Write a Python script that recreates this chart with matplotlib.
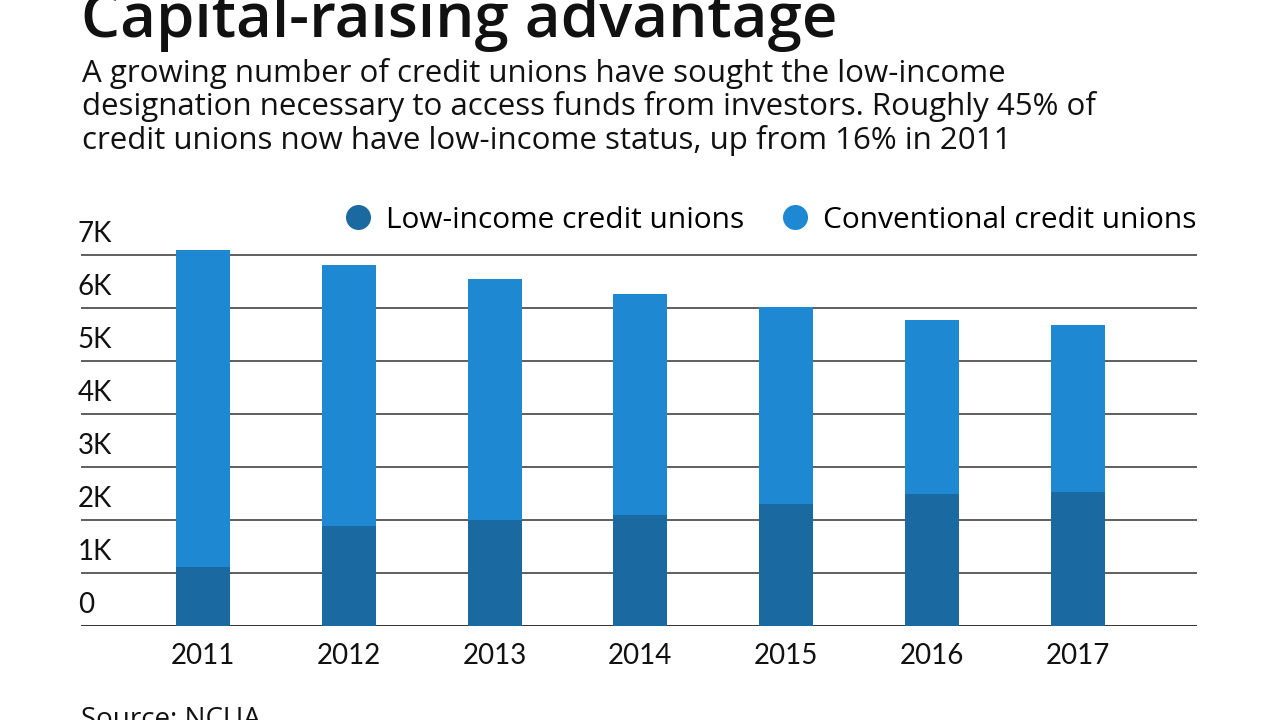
import numpy as np
import matplotlib.pyplot as plt
from matplotlib.lines import Line2D

years = ["2011", "2012", "2013", "2014", "2015", "2016", "2017"]
low_income = [1110, 1890, 2000, 2090, 2300, 2490, 2530]
total = [7090, 6810, 6550, 6260, 6020, 5770, 5680]
conventional = [t - l for t, l in zip(total, low_income)]

y_ticks = [0, 1000, 2000, 3000, 4000, 5000, 6000, 7000]
y_labels = ["0", "1K", "2K", "3K", "4K", "5K", "6K", "7K"]

dark_blue = "#1b69a1"
light_blue = "#1e88d3"

plt.rcParams["font.family"] = ["Lato", "DejaVu Sans"]
wide = ["Open Sans", "DejaVu Sans"]

fig = plt.figure(figsize=(12.8, 7.2), dpi=100)
ax = fig.add_axes([0.0633, 0.1306, 0.872, 0.5375])

x = np.arange(len(years))
ax.bar(x, low_income, width=0.37, color=dark_blue, zorder=3)
ax.bar(x, conventional, width=0.37, bottom=low_income, color=light_blue, zorder=3)

ax.set_xlim(-0.837, 6.82)
ax.set_ylim(0, 7300)

# gridlines
for t in y_ticks:
    ax.axhline(t, color="#333333", linewidth=1.1 if t else 1.4, zorder=2)

# tick labels sit above gridlines
ax.set_yticks([])
for t, lab in zip(y_ticks, y_labels):
    ax.annotate(lab, xy=(-0.003, t), xycoords=ax.get_yaxis_transform(),
                xytext=(0, 6), textcoords="offset points",
                ha="left", va="bottom", fontsize=20, color="#111111")

ax.set_xticks(x)
ax.set_xticklabels(years, fontsize=20, color="#111111")
ax.tick_params(axis="x", length=0, pad=12)

for s in ax.spines.values():
    s.set_visible(False)

# legend
handles = [Line2D([], [], marker="o", linestyle="", markersize=17, color=dark_blue),
           Line2D([], [], marker="o", linestyle="", markersize=17, color=light_blue)]
fig.legend(handles, ["Low-income credit unions", "Conventional credit unions"],
           loc="center right", bbox_to_anchor=(0.935, 0.694), ncol=2, frameon=False,
           prop={"family": wide, "size": 21.5}, handlelength=1.0, handletextpad=0.45,
           columnspacing=1.2, borderpad=0, borderaxespad=0)

# title and subtitle
fig.text(0.063, 0.948, "Capital-raising advantage", fontsize=44.5, fontweight="semibold",
         family=wide, ha="left", va="baseline", color="#111111")
fig.text(0.064, 0.92,
         "A growing number of credit unions have sought the low-income\n"
         "designation necessary to access funds from investors. Roughly 45% of\n"
         "credit unions now have low-income status, up from 16% in 2011",
         fontsize=22.5, family=wide, ha="left", va="top", linespacing=1.12, color="#111111")

fig.text(0.063, 0.0, "Source: NCUA", fontsize=20, family=wide, ha="left", va="center",
         color="#111111")

fig.savefig("out.png", dpi=100)
